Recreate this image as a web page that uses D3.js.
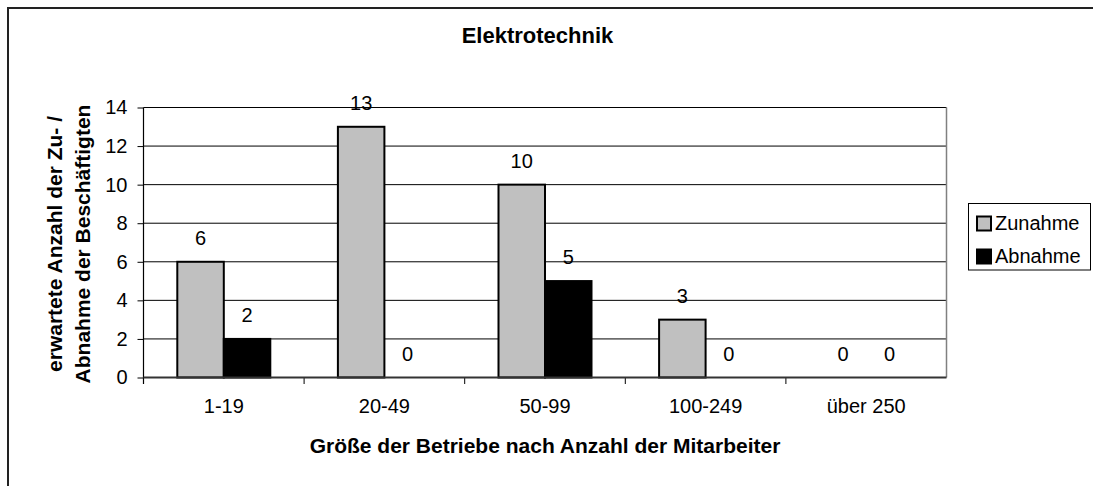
<!DOCTYPE html>
<html><head><meta charset="utf-8">
<script src="https://cdn.jsdelivr.net/npm/d3@7"></script>
<style>html,body{margin:0;padding:0;background:#fff;overflow:hidden;} svg{display:block;font-family:Arial,"Liberation Sans",sans-serif;}</style>
</head><body>
<svg id="c" width="1093" height="486"></svg>
<script>
const categories = ["1-19","20-49","50-99","100-249","über 250"];
const seriesNames = ["Zunahme","Abnahme"];
const zunahme = [6,13,10,3,0];
const abnahme = [2,0,5,0,0];
const yTicks = [0,2,4,6,8,10,12,14];
const chartTitle = "Elektrotechnik";
const xTitle = "Größe der Betriebe nach Anzahl der Mitarbeiter";
const yTitleLines = ["erwartete Anzahl der Zu- /","Abnahme der Beschäftigten"];
const colors = ["#C0C0C0","#000000"];

const svg = d3.select("#c");
const L = 143.5, R = 946.5, T = 107.5, B = 377.5;

// outer border (only left and top visible in the frame)
svg.append("path").attr("d","M8,486V8H1093").attr("fill","none")
  .attr("stroke","#222").attr("stroke-width",2);

const x0 = d3.scaleBand().domain(categories).range([L,R]).paddingInner(0).paddingOuter(0);
const x1 = d3.scaleBand().domain(seriesNames).range([33.8, x0.bandwidth()-33.8]).paddingInner(0).paddingOuter(0);
const y = d3.scaleLinear().domain([0,14]).range([B,T]);

// gridlines
svg.append("g").selectAll("line").data(yTicks.filter(d=>d>0)).join("line")
  .attr("x1",L).attr("x2",R).attr("y1",d=>y(d)).attr("y2",d=>y(d))
  .attr("stroke","#000").attr("stroke-width",1);
// right border of plot
svg.append("line").attr("x1",R).attr("x2",R).attr("y1",T).attr("y2",B)
  .attr("stroke","#808080").attr("stroke-width",1.5);

// y axis
const yAxis = svg.append("g").attr("transform",`translate(${L},0)`)
  .call(d3.axisLeft(y).tickValues(yTicks).tickSize(6).tickPadding(10).tickFormat(d3.format("d")));
yAxis.select(".domain").attr("d",`M0,${T}V${B+6.5}`).attr("stroke","#000").attr("stroke-width",1.2);
yAxis.selectAll(".tick line").attr("stroke","#000");
yAxis.selectAll("text").attr("font-size",20).attr("fill","#000").attr("font-family","Arial, 'Liberation Sans', sans-serif");

// x axis
const xAxis = svg.append("g").attr("transform",`translate(0,${B})`)
  .call(d3.axisBottom(x0).tickSize(0).tickPadding(21));
xAxis.select(".domain").remove();
xAxis.selectAll("text").attr("font-size",20).attr("fill","#000").attr("font-family","Arial, 'Liberation Sans', sans-serif");
svg.append("g").selectAll("line").data(categories.slice(1)).join("line")
  .attr("x1",d=>x0(d)).attr("x2",d=>x0(d)).attr("y1",B).attr("y2",B+6.5)
  .attr("stroke","#000").attr("stroke-width",1);

// bars
const rows = categories.map((c,i)=>({cat:c, vals:[zunahme[i],abnahme[i]]}));
const groups = svg.append("g").selectAll("g").data(rows).join("g")
  .attr("transform",d=>`translate(${x0(d.cat)},0)`);
groups.selectAll("rect").data(d=>d.vals.map((v,j)=>({v, s:seriesNames[j], j})).filter(e=>e.v>0)).join("rect")
  .attr("x",e=>x1(e.s)).attr("width",x1.bandwidth())
  .attr("y",e=>y(e.v)).attr("height",e=>y(0)-y(e.v))
  .attr("fill",e=>colors[e.j]).attr("stroke","#000").attr("stroke-width",2);
groups.selectAll("text").data(d=>d.vals.map((v,j)=>({v, s:seriesNames[j], j}))).join("text")
  .attr("x",e=>x1(e.s)+x1.bandwidth()/2).attr("y",e=>y(e.v)-17)
  .attr("text-anchor","middle").attr("font-size",20).attr("fill","#000").text(e=>e.v);

// x axis line (on top)
svg.append("line").attr("x1",L).attr("x2",R).attr("y1",B).attr("y2",B)
  .attr("stroke","#333").attr("stroke-width",2);

// titles
svg.append("text").attr("x",537.5).attr("y",43).attr("text-anchor","middle")
  .attr("font-size",22).attr("font-weight","bold").text(chartTitle);
svg.append("text").attr("x",545).attr("y",453).attr("text-anchor","middle")
  .attr("font-size",21).attr("font-weight","bold").text(xTitle);
const yt = svg.append("text").attr("transform","translate(0,244) rotate(-90)")
  .attr("text-anchor","middle").attr("font-size",21).attr("font-weight","bold");
yt.selectAll("tspan").data(yTitleLines).join("tspan")
  .attr("x",0).attr("y",(d,i)=>i===0?62:90).text(d=>d);

// legend
const lg = svg.append("g");
lg.append("rect").attr("x",968.5).attr("y",203.5).attr("width",122).attr("height",66.5)
  .attr("fill","#fff").attr("stroke","#000").attr("stroke-width",1);
const items = lg.selectAll("g").data(seriesNames).join("g")
  .attr("transform",(d,i)=>`translate(0,${i*33})`);
items.append("rect").attr("x",977).attr("y",216.5).attr("width",14).attr("height",14)
  .attr("fill",(d,i)=>colors[i]).attr("stroke","#000").attr("stroke-width",2);
items.append("text").attr("x",995).attr("y",229.5).attr("font-size",20).text(d=>d);
</script>
</body></html>
